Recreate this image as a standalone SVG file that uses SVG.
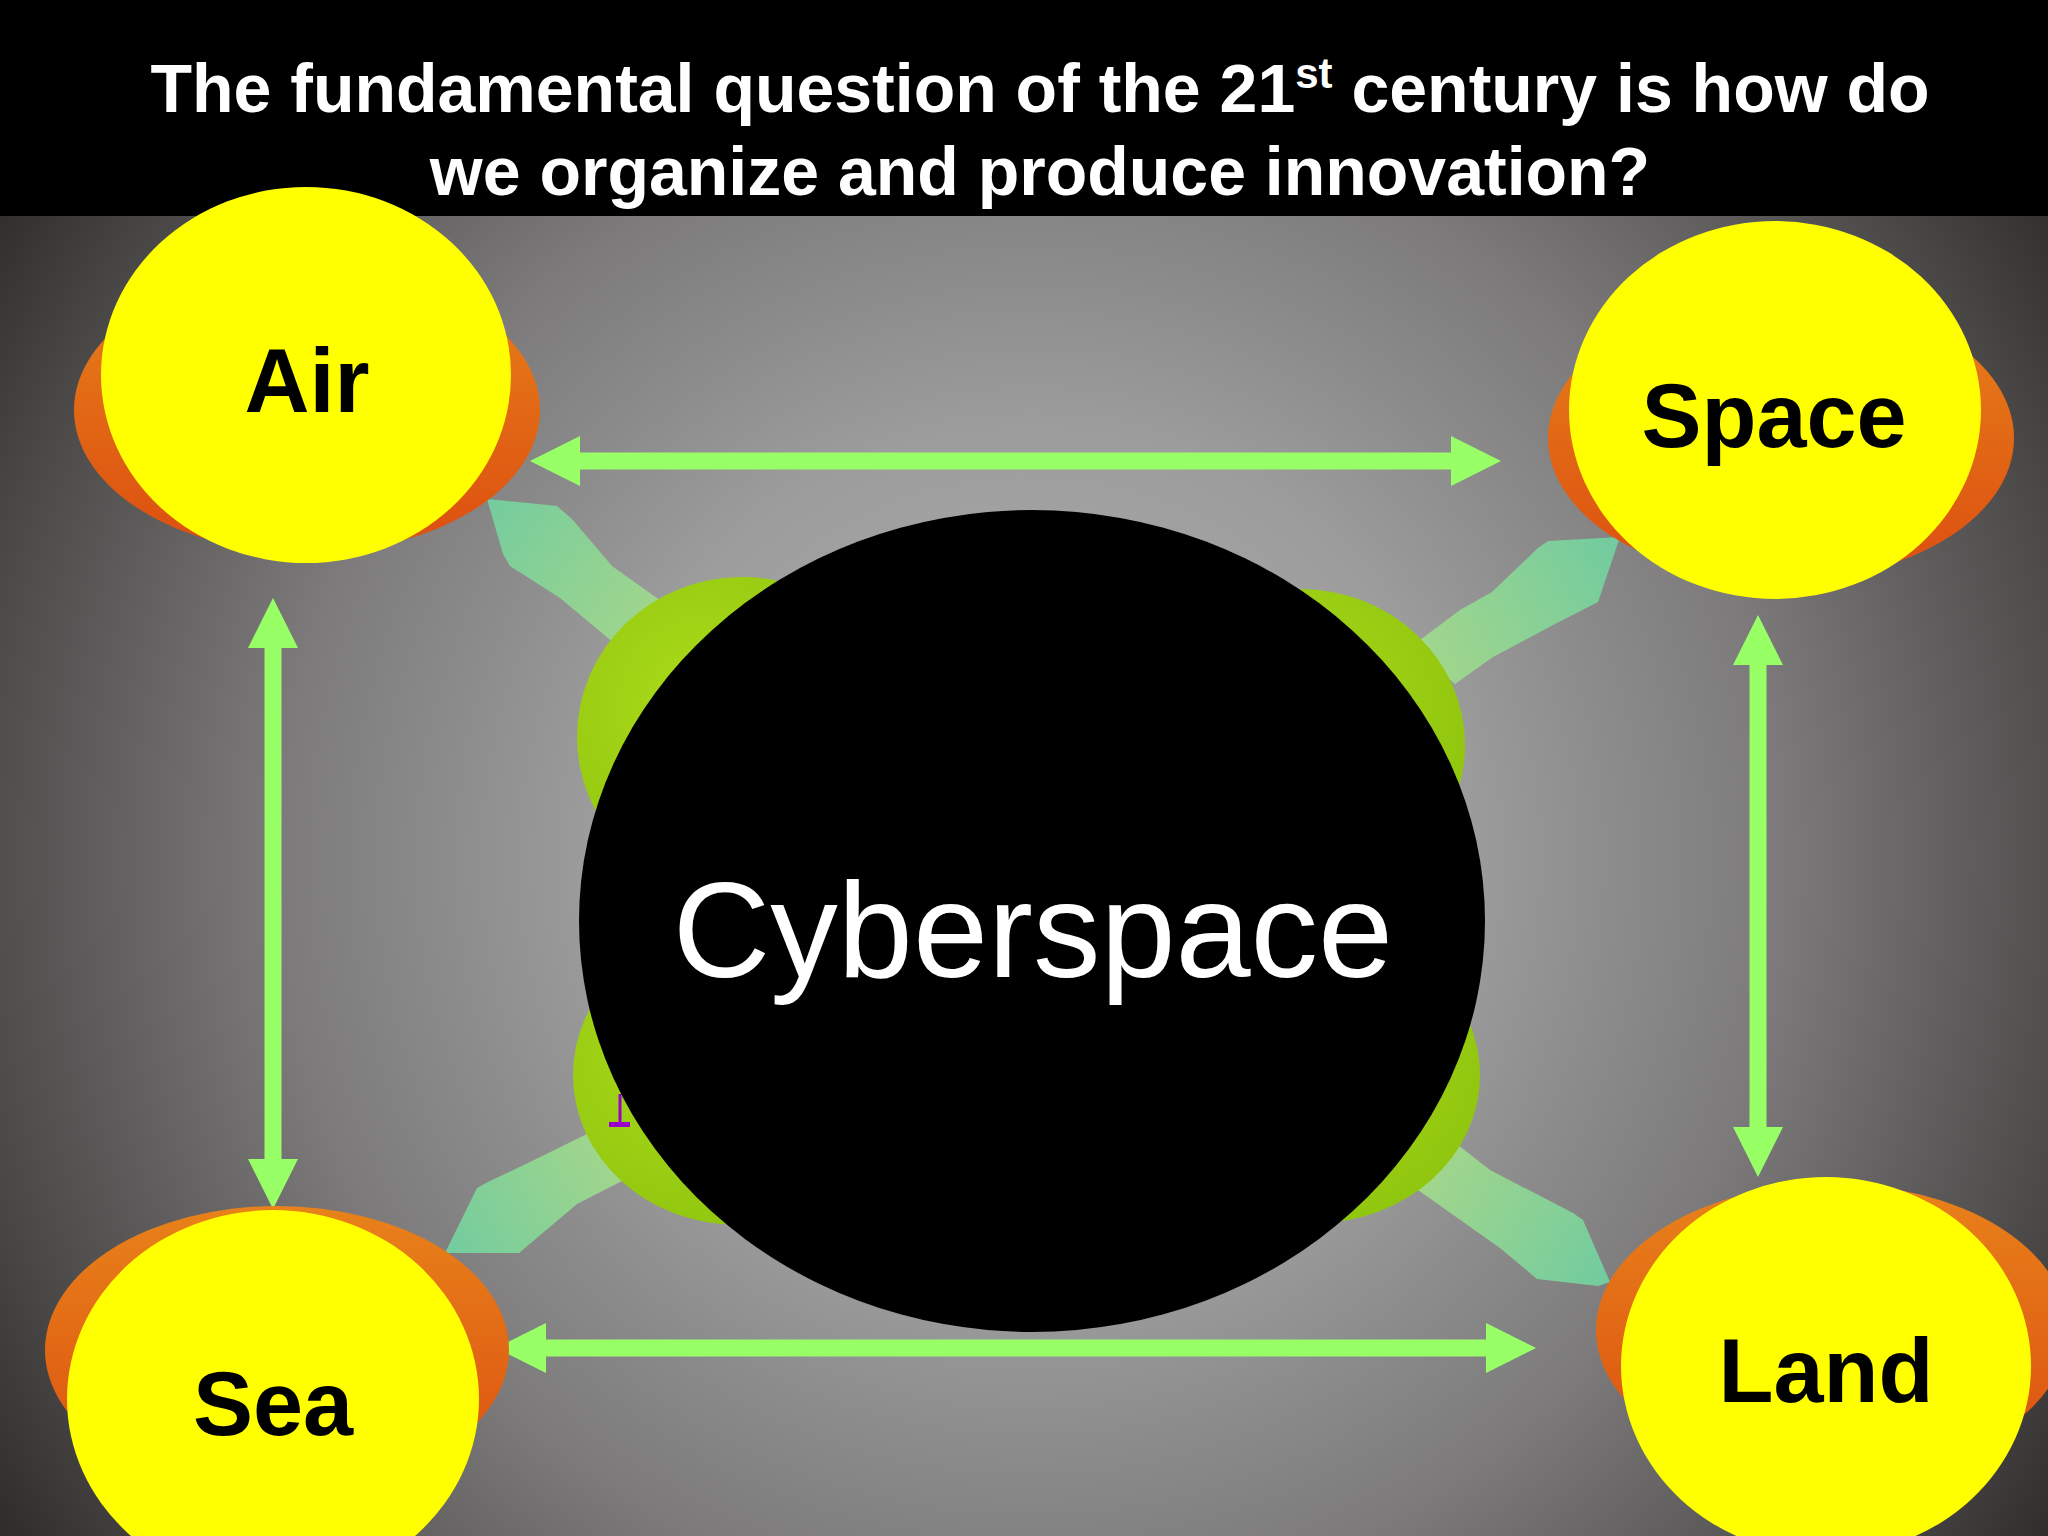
<svg xmlns="http://www.w3.org/2000/svg" width="2048" height="1536" viewBox="0 0 2048 1536">
<defs>
<radialGradient id="bg" gradientUnits="userSpaceOnUse" cx="1030" cy="860" r="1250">
<stop offset="0" stop-color="#b4b4b4"/>
<stop offset="0.35" stop-color="#9c9c9c"/>
<stop offset="0.6" stop-color="#7c7a7a"/>
<stop offset="0.85" stop-color="#4c4949"/>
<stop offset="1" stop-color="#2c2828"/>
</radialGradient>
<linearGradient id="orange" x1="0" y1="0" x2="0" y2="1">
<stop offset="0" stop-color="#e8821a"/>
<stop offset="1" stop-color="#dc4e10"/>
</linearGradient>
<radialGradient id="lime" cx="0.4" cy="0.4" r="0.7">
<stop offset="0" stop-color="#acdc1a"/>
<stop offset="1" stop-color="#8ec40e"/>
</radialGradient>
<linearGradient id="tealUL" gradientUnits="userSpaceOnUse" x1="487" y1="500" x2="660" y2="620">
<stop offset="0" stop-color="#74cc9e"/>
<stop offset="1" stop-color="#a2d68c"/>
</linearGradient>
<linearGradient id="tealUR" gradientUnits="userSpaceOnUse" x1="1615" y1="560" x2="1425" y2="660">
<stop offset="0" stop-color="#74cc9e"/>
<stop offset="1" stop-color="#a2d68c"/>
</linearGradient>
<linearGradient id="tealLL" gradientUnits="userSpaceOnUse" x1="450" y1="1250" x2="615" y2="1160">
<stop offset="0" stop-color="#74cc9e"/>
<stop offset="1" stop-color="#a2d68c"/>
</linearGradient>
<linearGradient id="tealLR" gradientUnits="userSpaceOnUse" x1="1600" y1="1275" x2="1430" y2="1170">
<stop offset="0" stop-color="#74cc9e"/>
<stop offset="1" stop-color="#a2d68c"/>
</linearGradient>
</defs>
<style>
.title{font-family:"Liberation Sans",Arial,sans-serif;font-weight:bold;font-size:68px;fill:#ffffff;text-anchor:middle}
.label{font-family:"Liberation Sans",Arial,sans-serif;font-weight:bold;font-size:90px;fill:#000000;text-anchor:middle}
.cyber{font-family:"Liberation Sans",Arial,sans-serif;font-size:135px;fill:#ffffff;text-anchor:middle}
.shadow{fill:url(#orange)}
.sun{fill:#ffff00}
.arrow{fill:#99ff66}
.hub{fill:url(#lime)}
</style>

<rect x="0" y="0" width="2048" height="1536" fill="url(#bg)"/>
<rect id="header" x="0" y="0" width="2048" height="216" fill="#000000"/>

<g id="connectors">
<polygon fill="url(#tealUL)" points="487,499 557,506 572,519 612,566 668,606 620,648 560,598 510,566 503,554"/>
<polygon fill="url(#tealUR)" points="1548,541 1620,537 1598,602 1555,624 1493,657 1455,684 1412,646 1460,610 1492,592 1538,548"/>
<polygon fill="url(#tealLL)" points="587,1134 624,1180 577,1204 519,1253 445,1253 477,1188 488,1182 530,1162"/>
<polygon fill="url(#tealLR)" points="1458,1145 1490,1170 1573,1213 1583,1220 1610,1282 1598,1286 1537,1279 1500,1248 1418,1190"/>
<polygon class="arrow" points="530,461 580,436 580,452.5 1451,452.5 1451,436 1501,461 1451,486 1451,469.5 580,469.5 580,486"/>
<polygon class="arrow" points="496,1348 546,1323 546,1339.5 1486,1339.5 1486,1323 1536,1348 1486,1373 1486,1356.5 546,1356.5 546,1373"/>
<polygon class="arrow" points="273,598 298,648 281.5,648 281.5,1159 298,1159 273,1209 248,1159 264.5,1159 264.5,648 248,648"/>
<polygon class="arrow" points="1758,615 1783,665 1766.5,665 1766.5,1127 1783,1127 1758,1177 1733,1127 1749.5,1127 1749.5,665 1733,665"/>
</g>

<g id="air">
<ellipse class="shadow" cx="307" cy="410" rx="233" ry="143"/>
<ellipse class="sun" cx="306" cy="375" rx="205" ry="188"/>
<text class="label" x="307" y="412">Air</text>
</g>

<g id="space">
<ellipse class="shadow" cx="1781" cy="438" rx="233" ry="143"/>
<ellipse class="sun" cx="1775" cy="410" rx="206" ry="189"/>
<text class="label" x="1774" y="447">Space</text>
</g>

<g id="sea">
<ellipse class="shadow" cx="277" cy="1350" rx="232" ry="144"/>
<ellipse class="sun" cx="273" cy="1399" rx="206" ry="189"/>
<text class="label" x="273" y="1435">Sea</text>
</g>

<g id="land">
<ellipse class="shadow" cx="1832" cy="1330" rx="236" ry="146"/>
<ellipse class="sun" cx="1826" cy="1366" rx="205" ry="189"/>
<text class="label" x="1826" y="1402">Land</text>
</g>

<g id="cyberspace">
<ellipse class="hub" cx="742" cy="737" rx="165" ry="160"/>
<ellipse class="hub" cx="1300" cy="745" rx="165" ry="156"/>
<ellipse class="hub" cx="738" cy="1075" rx="165" ry="150"/>
<ellipse class="hub" cx="1315" cy="1075" rx="165" ry="148"/>
<rect x="618.5" y="1094" width="3" height="32" fill="#9900cc"/>
<rect x="609" y="1122" width="21" height="5" fill="#9900cc"/>
<ellipse cx="1032" cy="921" rx="453" ry="411" fill="#000000"/>
<text class="cyber" x="1033" y="977">Cyberspace</text>
</g>

<g id="title">
<text class="title" x="1040" y="112">The fundamental question of the 21<tspan font-size="42" dy="-24">st</tspan><tspan dy="24"> century is how do</tspan></text>
<text class="title" x="1040" y="195">we organize and produce innovation?</text>
</g>
</svg>
